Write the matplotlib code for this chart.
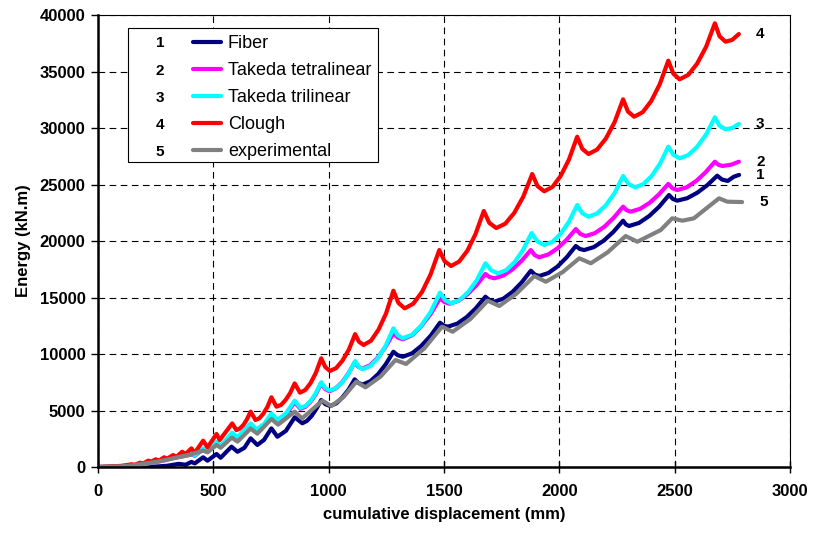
import matplotlib
matplotlib.use("Agg")
import matplotlib.pyplot as plt
from matplotlib.patches import Rectangle
from matplotlib.ticker import MultipleLocator

plt.rcParams['font.family'] = ['Liberation Sans', 'DejaVu Sans']

# cumulative displacement (mm) / dissipated energy (kN.m) for each model
fiber_x = [0, 150, 250, 300, 350, 380, 405, 420, 456, 475, 514, 532, 579, 605, 635, 662, 691, 720, 752, 778,
           815, 853, 886, 906, 927, 947, 968, 986, 1007, 1034, 1060, 1087, 1113, 1129, 1148, 1181, 1215, 1248,
           1281, 1300, 1322, 1362, 1402, 1443, 1483, 1499, 1517, 1558, 1599, 1639, 1680, 1698, 1719, 1758,
           1798, 1837, 1877, 1894, 1913, 1953, 1993, 2032, 2072, 2089, 2108, 2150, 2193, 2235, 2277, 2289,
           2303, 2346, 2390, 2433, 2476, 2493, 2512, 2555, 2599, 2642, 2685, 2706, 2731, 2757, 2780]
fiber_y = [0, 0, 40, 110, 280, 200, 450, 320, 860, 560, 1150, 820, 1800, 1350, 1700, 2540, 1950, 2400, 3420, 2680,
           3200, 4400, 3870, 4080, 4530, 5150, 5930, 5560, 5400, 5640, 6160, 6860, 7760, 7440, 7300, 7590, 8230, 9100,
           10200, 9890, 9760, 10060, 10720, 11630, 12770, 12520, 12420, 12690, 13270, 14060, 15070, 14760, 14630, 14900,
           15510, 16330, 17370, 17040, 16900, 17170, 17750, 18550, 19560, 19300, 19200, 19460, 20030, 20810, 21800, 21470,
           21330, 21600, 22210, 23030, 24070, 23720, 23570, 23790, 24280, 24940, 25780, 25440, 25320, 25690, 25850]

tetra_x = [0, 100, 150, 200, 250, 290, 330, 370, 405, 420, 456, 475, 514, 532, 582, 605, 662, 687, 720, 752,
           778, 815, 853, 878, 900, 923, 945, 968, 985, 1004, 1031, 1059, 1086, 1113, 1129, 1146, 1180, 1214,
           1247, 1281, 1300, 1322, 1362, 1402, 1443, 1483, 1503, 1525, 1564, 1602, 1641, 1680, 1698, 1719,
           1758, 1798, 1837, 1877, 1894, 1913, 1953, 1993, 2032, 2072, 2092, 2115, 2155, 2196, 2236, 2277,
           2292, 2310, 2351, 2392, 2432, 2473, 2491, 2512, 2553, 2594, 2634, 2675, 2690, 2707, 2745, 2779]
tetra_y = [0, 50, 130, 250, 420, 600, 800, 950, 1100, 1000, 1580, 1330, 2150, 1800, 2950, 2560, 3750, 3260, 3700, 4620,
           4080, 4650, 5720, 5150, 5330, 5800, 6450, 7400, 6900, 6700, 6960, 7520, 8280, 9250, 8870, 8700, 9010, 9700,
           10640, 11830, 11460, 11300, 11660, 12460, 13550, 14930, 14590, 14450, 14710, 15290, 16080, 17080, 16810, 16700,
           16950, 17500, 18250, 19200, 18750, 18560, 18810, 19360, 20110, 21060, 20620, 20440, 20700, 21270, 22050, 23040,
           22730, 22600, 22850, 23380, 24120, 25050, 24670, 24510, 24760, 25310, 26070, 27020, 26750, 26640, 26750, 27020]

tri_x = [0, 100, 150, 200, 250, 290, 330, 370, 405, 420, 456, 475, 514, 532, 582, 605, 662, 687, 720, 752,
         778, 815, 853, 878, 900, 923, 945, 968, 985, 1004, 1032, 1060, 1087, 1115, 1131, 1148, 1181, 1215,
         1248, 1281, 1300, 1322, 1362, 1402, 1443, 1483, 1505, 1531, 1568, 1605, 1643, 1680, 1705, 1733,
         1770, 1807, 1843, 1880, 1905, 1935, 1971, 2006, 2042, 2078, 2100, 2127, 2164, 2202, 2240, 2277,
         2300, 2329, 2365, 2401, 2437, 2473, 2495, 2522, 2560, 2598, 2637, 2675, 2695, 2721, 2750, 2779]
tri_y = [0, 60, 150, 280, 450, 650, 850, 1000, 1150, 1050, 1650, 1380, 2240, 1860, 3040, 2630, 3860, 3330, 3800, 4750,
         4160, 4750, 5870, 5230, 5410, 5870, 6550, 7500, 7000, 6780, 6990, 7510, 8280, 9370, 8870, 8650, 8940, 9660,
         10750, 12270, 11660, 11390, 11710, 12520, 13730, 15430, 14780, 14490, 14770, 15480, 16540, 18030, 17410, 17140,
         17420, 18140, 19200, 20700, 19970, 19650, 19930, 20640, 21700, 23190, 22460, 22150, 22440, 23160, 24240, 25750,
         25050, 24750, 25040, 25760, 26840, 28350, 27630, 27320, 27610, 28340, 29430, 30950, 30210, 29890, 30000, 30360]

clough_x = [0, 100, 146, 160, 182, 196, 218, 232, 250, 265, 287, 300, 326, 340, 365, 380, 405, 420, 456, 475,
            514, 528, 582, 600, 615, 631, 646, 662, 683, 700, 717, 735, 752, 774, 794, 813, 833, 853, 876, 899,
            922, 945, 968, 986, 1006, 1033, 1060, 1088, 1115, 1132, 1152, 1184, 1216, 1249, 1281, 1303, 1330,
            1367, 1405, 1442, 1480, 1503, 1531, 1566, 1602, 1637, 1673, 1697, 1727, 1766, 1805, 1844, 1883,
            1906, 1935, 1971, 2006, 2042, 2078, 2100, 2127, 2164, 2202, 2240, 2277, 2298, 2325, 2362, 2399,
            2436, 2473, 2495, 2522, 2560, 2598, 2637, 2675, 2695, 2721, 2750, 2779]
clough_y = [0, 100, 240, 200, 380, 320, 560, 480, 680, 580, 860, 740, 1060, 900, 1350, 1150, 1650, 1270, 2330, 1740,
            2920, 2390, 3860, 3270, 3400, 3730, 4220, 4900, 4160, 4320, 4720, 5330, 6170, 5340, 5500, 5920, 6530, 7400, 6580, 6820,
            7430, 8340, 9620, 8840, 8500, 8760, 9410, 10390, 11760, 11080, 10800, 11180, 12140, 13580, 15600, 14520, 14040,
            14450, 15490, 17030, 19200, 18220, 17790, 18180, 19150, 20610, 22660, 21600, 21150, 21530, 22490, 23920, 25930,
            24860, 24400, 24790, 25750, 27200, 29230, 28160, 27700, 28090, 29060, 30510, 32540, 31460, 31000, 31400, 32390,
            33880, 35960, 34810, 34310, 34710, 35700, 37190, 39270, 38130, 37640, 37800, 38320]

exp_x = [0, 100, 150, 200, 250, 300, 350, 400, 456, 475, 514, 532, 580, 605, 662, 691, 752, 781, 853, 885,
         973, 1012, 1065, 1120, 1160, 1225, 1290, 1336, 1415, 1492, 1538, 1615, 1690, 1740, 1815, 1892,
         1942, 2015, 2087, 2137, 2210, 2288, 2339, 2440, 2490, 2534, 2584, 2693, 2729, 2793]
exp_y = [0, 60, 150, 300, 450, 650, 880, 1100, 1450, 1300, 1950, 1700, 2600, 2250, 3400, 2950, 4250, 3750, 4900, 4300,
         5870, 5400, 6200, 7550, 7050, 8000, 9470, 9120, 10500, 12420, 11970, 13100, 14720, 14250, 15350, 16900,
         16400, 17250, 18470, 18030, 19000, 20440, 19940, 20970, 22010, 21800, 22010, 23780, 23480, 23450]

series = [
    ("1", "Fiber", fiber_x, fiber_y, "#000080"),
    ("2", "Takeda tetralinear", tetra_x, tetra_y, "#FF00FF"),
    ("3", "Takeda trilinear", tri_x, tri_y, "#00FFFF"),
    ("4", "Clough", clough_x, clough_y, "#FF0000"),
    ("5", "experimental", exp_x, exp_y, "#808080"),
]

fig = plt.figure(figsize=(8.13, 5.33), dpi=100)
ax = fig.add_axes([0.1205, 0.1238, 0.851, 0.848])

for num, name, xs, ys, col in series:
    assert len(xs) == len(ys), name
    ax.plot(xs, ys, color=col, lw=3.0, solid_joinstyle="round", solid_capstyle="round", label=name)
    ax.text(xs[-1] + 75, ys[-1], num, fontsize=11, fontweight="bold", va="center", clip_on=False)

ax.set_xlim(0, 3000)
ax.set_ylim(0, 40000)
ax.xaxis.set_major_locator(MultipleLocator(500))
ax.yaxis.set_major_locator(MultipleLocator(5000))
ax.grid(True, color="black", linestyle=(0, (6, 4)), linewidth=0.8)
ax.set_axisbelow(True)

for s in ("left", "bottom"):
    ax.spines[s].set_linewidth(1.8)
for s in ("top", "right"):
    ax.spines[s].set_linewidth(0.8)

ax.tick_params(axis="x", direction="inout", length=8, width=1, labelsize=12, pad=8)
ax.tick_params(axis="y", direction="out", length=5, width=1, labelsize=12, pad=4)
for lbl in ax.get_xticklabels() + ax.get_yticklabels():
    lbl.set_fontweight("bold")

ax.set_xlabel("cumulative displacement (mm)", fontsize=12, fontweight="bold", labelpad=6)
ax.set_ylabel("Energy (kN.m)", fontsize=12, fontweight="bold", labelpad=6)

# legend frame, wide enough to hold the curve numbers on its left
ax.add_patch(Rectangle((0.0434, 0.675), 0.361, 0.2965, transform=ax.transAxes,
                       facecolor="white", edgecolor="black", lw=0.8, zorder=4))
leg = ax.legend(loc="upper left", bbox_to_anchor=(0.137, 0.956), frameon=False, fontsize=13,
                handlelength=1.55, handletextpad=0.4, labelspacing=0.56, borderpad=0,
                borderaxespad=0)
leg.set_zorder(5)
for h in leg.legend_handles:
    h.set_linewidth(3.0)

fig.canvas.draw()
inv = ax.transAxes.inverted()
for (num, *_), t in zip(series, leg.get_texts()):
    bb = t.get_window_extent()
    yc = inv.transform((0, (bb.y0 + bb.y1) / 2))[1]
    ax.text(0.0896, yc, num, transform=ax.transAxes, fontsize=11, fontweight="bold",
            ha="center", va="center", zorder=6)

fig.savefig("out.png", dpi=100)
